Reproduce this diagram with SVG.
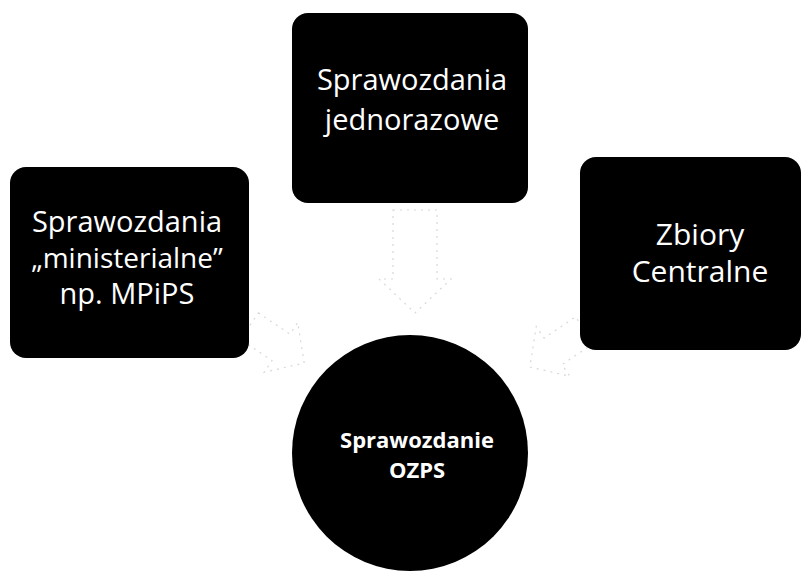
<svg xmlns="http://www.w3.org/2000/svg" width="809" height="577" viewBox="0 0 809 577">
<style>
.node{fill:#000}
.lbl{font-family:"Open Sans","Liberation Sans",sans-serif;fill:#fff;text-anchor:middle}
.arrow{fill:#fff;stroke:#d8d8d8;stroke-width:1.2;stroke-dasharray:2 5}
</style>
<rect width="809" height="577" fill="#fff"/>
<g id="connectors">
<polygon class="arrow" points="393,210 437,210 437,279 451,279 415,313 379,279 393,279"/>
<g transform="translate(276,344) rotate(34)">
<polygon class="arrow" points="-32,-16 6,-16 6,-30 34,0 6,30 6,16 -32,16"/>
</g>
<g transform="translate(558,348) rotate(146)">
<polygon class="arrow" points="-32,-16 6,-16 6,-30 34,0 6,30 6,16 -32,16"/>
</g>
</g>
<g id="node-top">
<rect class="node" x="292" y="13" width="236" height="190" rx="16"/>
<text class="lbl" x="412" y="90" font-size="29">Sprawozdania</text>
<text class="lbl" x="412" y="130" font-size="29">jednorazowe</text>
</g>
<g id="node-left">
<rect class="node" x="10" y="167" width="239" height="191" rx="16"/>
<text class="lbl" x="127" y="232" font-size="29">Sprawozdania</text>
<text class="lbl" x="127" y="268" font-size="28">„ministerialne”</text>
<text class="lbl" x="127" y="304" font-size="29">np. MPiPS</text>
</g>
<g id="node-right">
<rect class="node" x="580" y="157" width="221" height="193" rx="16"/>
<text class="lbl" x="700" y="245" font-size="30">Zbiory</text>
<text class="lbl" x="700" y="282" font-size="30">Centralne</text>
</g>
<g id="node-center">
<circle class="node" cx="410" cy="453" r="118"/>
<text class="lbl" x="417" y="448" font-size="22" font-weight="bold">Sprawozdanie</text>
<text class="lbl" x="417" y="478" font-size="22" font-weight="bold">OZPS</text>
</g>
</svg>
